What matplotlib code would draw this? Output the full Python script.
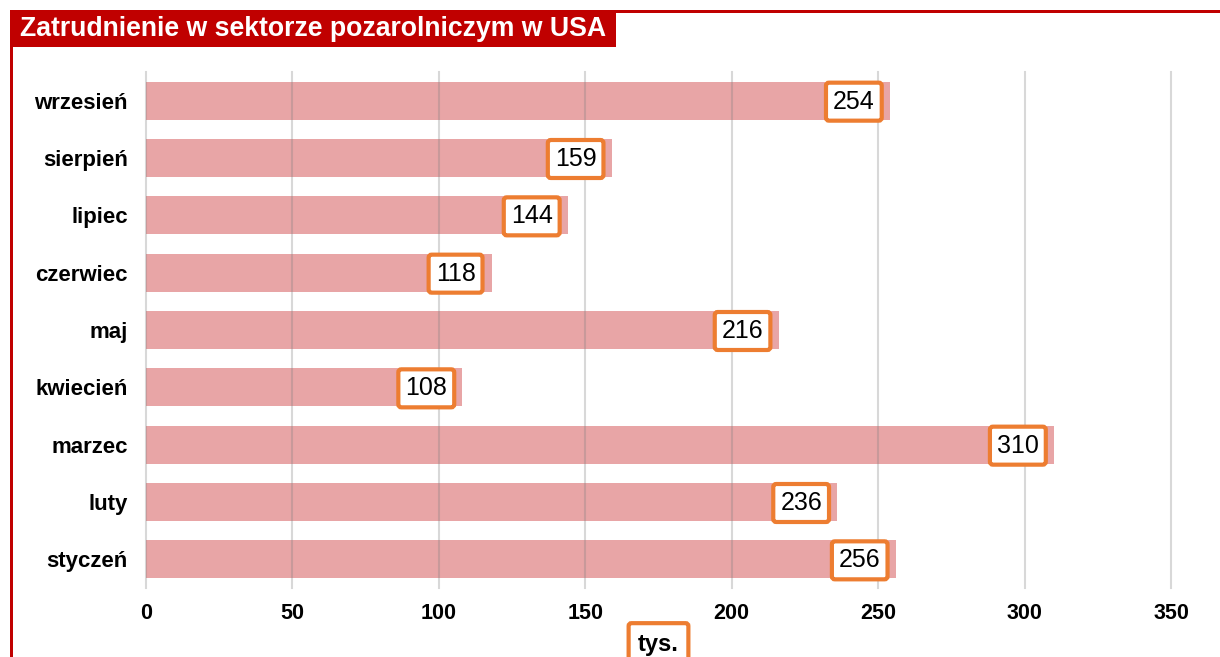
import matplotlib
matplotlib.use("Agg")
import matplotlib.pyplot as plt
from matplotlib.patches import Rectangle

months = ["styczeń", "luty", "marzec", "kwiecień", "maj",
          "czerwiec", "lipiec", "sierpień", "wrzesień"]
values = [256, 236, 310, 108, 216, 118, 144, 159, 254]
xticks = [0, 50, 100, 150, 200, 250, 300, 350]
title = "Zatrudnienie w sektorze pozarolniczym w USA"
unit = "tys."

bar_color = "#e8a5a6"
box_color = "#ed7d31"
red = "#c00000"

plt.rcParams['font.family'] = ['Liberation Sans', 'DejaVu Sans']

W, H = 1220, 657
fig = plt.figure(figsize=(W / 100, H / 100), dpi=100)

# axes placed in pixel terms
left, right, top, bottom = 146, 1171, 72, 588
ax = fig.add_axes([left / W, 1 - bottom / H, (right - left) / W, (bottom - top) / H])

y = list(range(len(months)))
ax.barh(y, values, height=0.66, color=bar_color, zorder=1)

ax.set_xlim(0, 350)
ax.set_ylim(-0.5, len(months) - 0.5)
ax.set_xticks(xticks)
ax.set_yticks(y)
ax.set_yticklabels(months)
ax.tick_params(axis='x', length=0, labelsize=15.5, pad=11)
ax.tick_params(axis='y', length=0, labelsize=16, pad=13)
for lab in ax.get_xticklabels() + ax.get_yticklabels():
    lab.set_fontweight('bold')
for s in ax.spines.values():
    s.set_visible(False)

ax.grid(axis='x', color='#808080', alpha=0.3, linewidth=1.5, zorder=2)
ax.set_axisbelow(False)
for gl in ax.get_xgridlines():
    gl.set_clip_on(False)

for yi, v in zip(y, values):
    ax.annotate(str(v), xy=(v, yi), xytext=(-36, -1), textcoords='offset pixels',
                ha='center', va='center', fontsize=18, color='black', zorder=5,
                bbox=dict(boxstyle='round,pad=0.28,rounding_size=0.12',
                          fc='white', ec=box_color, lw=3))

ax.set_xlabel(unit, fontsize=17, fontweight='bold', labelpad=6,
              bbox=dict(boxstyle='round,pad=0.4,rounding_size=0.12',
                        fc='white', ec=box_color, lw=3))

# red frame and title box
fig.add_artist(Rectangle((10 / W, 0), 3 / W, 1 - 10 / H, transform=fig.transFigure,
                         color=red, lw=0))
fig.add_artist(Rectangle((10 / W, 1 - 13 / H), 1 - 10 / W, 3 / H, transform=fig.transFigure,
                         color=red, lw=0))
fig.add_artist(Rectangle((10 / W, 1 - 47 / H), 606 / W, 37 / H, transform=fig.transFigure,
                         color=red, lw=0))
fig.text(20 / W, 1 - 29 / H, title, color='white', fontsize=19.2, fontweight='bold',
         ha='left', va='center')

fig.savefig("out.png", dpi=100)
